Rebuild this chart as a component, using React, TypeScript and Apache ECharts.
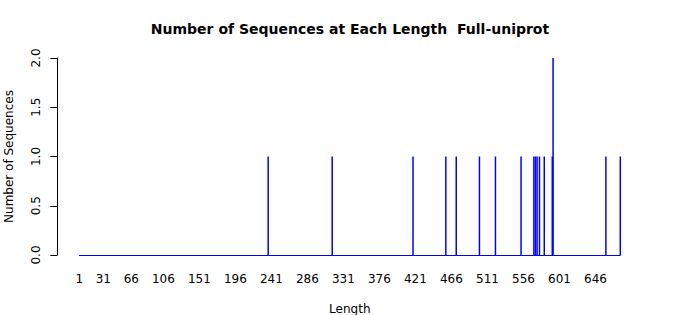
import React, { useEffect, useRef } from "react";
import * as echarts from "echarts";

const titleText = "Number of Sequences at Each Length  Full-uniprot";
const xTickLabels = [1, 31, 66, 106, 151, 196, 241, 286, 331, 376, 421, 466, 511, 556, 601, 646];
const yTickLabels = [0, 0.5, 1, 1.5, 2];
const lengthMin = 1;
const lengthMax = 677;
const lengths = [237, 317, 418, 459, 472, 501, 521, 553, 569, 571, 573, 576, 582, 592, 593, 659, 677];
const counts = [1, 1, 1, 1, 1, 1, 1, 1, 1, 1, 1, 1, 1, 1, 2, 1, 1];

const FONT = "DejaVu Sans";

export default function App() {
  const ref = useRef<HTMLDivElement>(null);
  useEffect(() => {
    document.body.style.margin = "0";
    if (!ref.current) return;
    const chart = echarts.init(ref.current, null, { renderer: "svg" });
    chart.setOption({
      animation: false,
      backgroundColor: "#ffffff",
      title: {
        text: titleText,
        left: "center",
        top: 17,
        textStyle: { fontFamily: FONT, fontSize: 14, fontWeight: "bold", color: "#000" },
      },
      grid: { left: 79.3, right: 79.7, top: 58, bottom: 60, outerBoundsMode: "none", containLabel: false },
      xAxis: {
        type: "value",
        min: lengthMin,
        max: lengthMax,
        name: "Length",
        nameLocation: "middle",
        nameGap: 48,
        nameTextStyle: { fontFamily: FONT, fontSize: 12, color: "#000" },
        axisLine: { show: true, onZero: true, lineStyle: { color: "#0000ff", width: 1 } },
        axisTick: { show: false },
        splitLine: { show: false },
        axisLabel: {
          customValues: xTickLabels,
          margin: 18,
          fontFamily: FONT,
          fontSize: 12,
          color: "#000",
          showMinLabel: true,
          showMaxLabel: true,
          hideOverlap: false,
        },
      },
      yAxis: {
        type: "value",
        min: 0,
        max: 2,
        interval: 0.5,
        offset: 22,
        name: "Number of Sequences",
        nameLocation: "middle",
        nameGap: 42,
        nameTextStyle: { fontFamily: FONT, fontSize: 12, color: "#000" },
        axisLine: { show: true, lineStyle: { color: "#000", width: 1 } },
        axisTick: { show: true, length: 7, lineStyle: { color: "#000" } },
        splitLine: { show: false },
        axisLabel: {
          customValues: yTickLabels,
          rotate: 90,
          margin: 15,
          fontFamily: FONT,
          fontSize: 12,
          color: "#000",
          formatter: (v: number) => v.toFixed(1),
        },
      },
      series: [
        {
          type: "bar",
          data: lengths.map((l, i) => [l, counts[i]]),
          barWidth: 1.5,
          itemStyle: { color: "#0000ff" },
        },
      ],
    });
    return () => chart.dispose();
  }, []);
  return <div ref={ref} style={{ width: 700, height: 315 }} />;
}
